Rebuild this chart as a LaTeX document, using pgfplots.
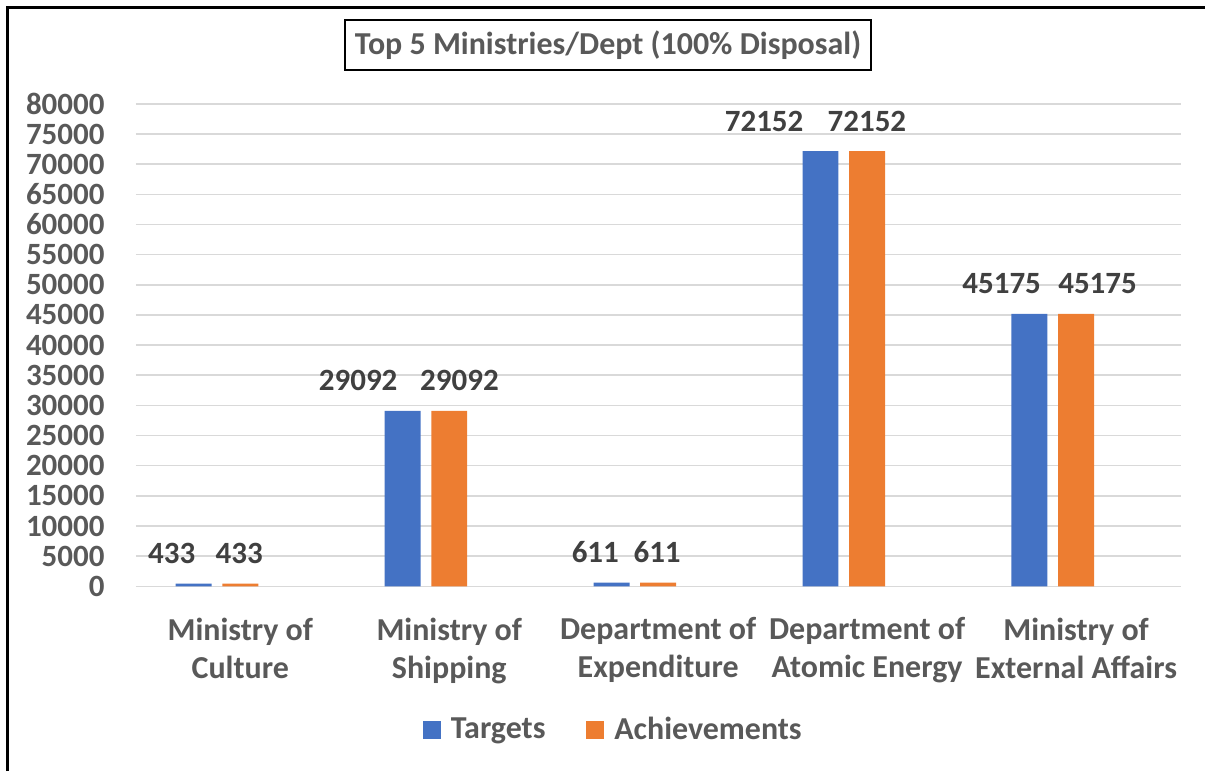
\documentclass[border=0pt]{standalone}
\usepackage{pgfplots}
\usepackage{fontspec}
\pgfplotsset{compat=1.18}
\setmainfont{Carlito}
\definecolor{BarBlue}{HTML}{4472C4}
\definecolor{BarOrange}{HTML}{ED7D31}
\definecolor{TxtGray}{HTML}{595959}
\definecolor{LblGray}{HTML}{404040}
\definecolor{GridGray}{HTML}{D9D9D9}
\newcommand{\chartfont}{\fontsize{15.5bp}{19bp}\selectfont\bfseries}
\newcommand{\catfont}{\fontsize{16bp}{19bp}\selectfont\bfseries}

% label positions (x in category units) as placed in the source chart
\pgfplotstableread{
x      y      lab
-0.328 433    433
0.564  29092  29092
1.699  611    611
2.507  72152  72152
3.644  45175  45175
}\targetlabels
\pgfplotstableread{
x      y      lab
-0.005 433    433
1.049  29092  29092
1.995  611    611
2.999  72152  72152
4.103  45175  45175
}\achievelabels

\begin{document}
\begin{tikzpicture}
  \begin{axis}[
    scale only axis,
    width=523bp,
    height=241.5bp,
    xmin=-0.5, xmax=4.5,
    ymin=0, ymax=80000,
    clip=false,
    axis line style={draw=none},
    major tick length=0pt,
    xtick={0,1,2,3,4},
    xticklabels={{Ministry of\\Culture},{Ministry of\\Shipping},{Department of\\Expenditure},{Department of\\Atomic Energy},{Ministry of\\External Affairs}},
    xticklabel style={font=\catfont, text=TxtGray, align=center, anchor=north, inner sep=0pt, yshift=-15.5bp},
    ytick={0,5000,...,80000},
    yticklabel style={font=\chartfont, text=TxtGray, anchor=east, inner sep=0pt, xshift=-15.5bp},
    scaled y ticks=false,
    /pgf/number format/.cd, 1000 sep={}, assume math mode=true, /pgfplots/.cd,
    ymajorgrids,
    grid style={GridGray, line width=0.75bp},
    title={Top 5 Ministries/Dept (100\% Disposal)},
    title style={at={(0.452,1.097)}, anchor=center, yshift=0pt, font=\fontsize{16bp}{19bp}\selectfont\bfseries,
      text=TxtGray, draw=black, line width=1bp, minimum height=25bp, inner xsep=5bp},
    legend columns=2,
    legend style={at={(0.458,-0.298)}, anchor=center, draw=none, font=\catfont, text=TxtGray,
      /tikz/every odd column/.append style={column sep=3bp},
      /tikz/every even column/.append style={column sep=18.5bp}},
    legend image code/.code={\fill[#1] (0bp,-4.5bp) rectangle (9bp,4.5bp);},
  ]
    \addplot[ybar, bar width=0.172, bar shift=-0.223, fill=BarBlue, draw=none] coordinates {
      (0,433) (1,29092) (2,611) (3,72152) (4,45175)
    };
    \addplot[ybar, bar width=0.172, bar shift=0, fill=BarOrange, draw=none] coordinates {
      (0,433) (1,29092) (2,611) (3,72152) (4,45175)
    };
    \legend{Targets,Achievements}
    \addplot[forget plot, draw=none, mark=none, nodes near coords, point meta=explicit symbolic,
      nodes near coords style={anchor=base, inner sep=0pt, yshift=10bp, font=\chartfont, text=LblGray}]
      table[x=x, y=y, meta=lab] {\targetlabels};
    \addplot[forget plot, draw=none, mark=none, nodes near coords, point meta=explicit symbolic,
      nodes near coords style={anchor=base, inner sep=0pt, yshift=10bp, font=\chartfont, text=LblGray}]
      table[x=x, y=y, meta=lab] {\achievelabels};
  \end{axis}
  % outer frame (only top and left edges show in the source image)
  \draw[line width=1.5bp] (-64.25bp,-92.5bp) -- (-64.25bp,289.75bp) -- (535bp,289.75bp);
  \path[use as bounding box] (-68bp,-92.5bp) rectangle (535bp,293.5bp);
\end{tikzpicture}
\end{document}
